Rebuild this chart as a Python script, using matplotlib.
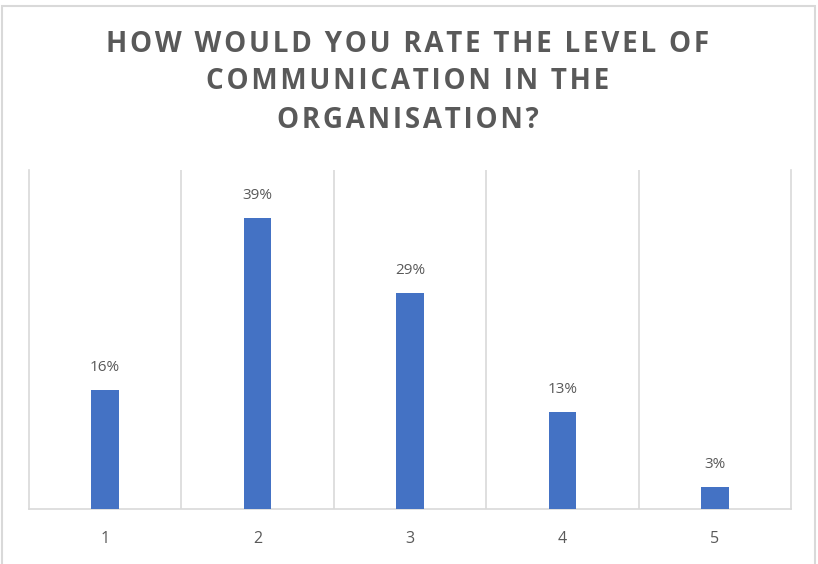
#!/usr/bin/env python3
"""Bar chart of communication ratings across the organisation."""

import matplotlib

matplotlib.use("Agg")
import matplotlib.pyplot as plt
from matplotlib.patches import Rectangle
from matplotlib.ticker import FixedLocator

TITLE_LINES = [
    "HOW WOULD YOU RATE THE LEVEL OF",
    "COMMUNICATION IN THE",
    "ORGANISATION?",
]
RATINGS = ["1", "2", "3", "4", "5"]
SHARES = [0.16, 0.39, 0.29, 0.13, 0.03]

BAR_COLOR = "#4472C4"
TEXT_COLOR = "#595959"
GRID_COLOR = "#D9D9D9"


def spaced(text: str) -> str:
    # hair spaces between letters give the title its tracked look
    return "\u200a".join(text)


def main() -> None:
    plt.rcParams["font.family"] = ["Open Sans", "DejaVu Sans"]
    fig = plt.figure(figsize=(8.18, 5.64), dpi=100)
    fig.patch.set_facecolor("white")

    ax = fig.add_axes([29 / 818, 1 - 509 / 564, 762 / 818, 339 / 564])
    x = list(range(1, len(RATINGS) + 1))
    bars = ax.bar(x, SHARES, width=0.18, color=BAR_COLOR, zorder=3)

    for rect, value in zip(bars, SHARES):
        ax.annotate(
            f"{value:.0%}",
            xy=(rect.get_x() + rect.get_width() / 2, rect.get_height()),
            xytext=(0, 17.5),
            textcoords="offset points",
            ha="center",
            va="center_baseline",
            fontsize=11,
            color=TEXT_COLOR,
        )

    ax.set_xlim(0.5, len(RATINGS) + 0.5)
    ax.set_ylim(0, 0.4545)
    ax.set_xticks(x)
    ax.set_xticklabels(RATINGS, fontsize=11.5, color=TEXT_COLOR)
    ax.set_yticks([])
    ax.tick_params(axis="x", length=0, pad=15.5)

    # vertical separators between categories
    ax.xaxis.set_minor_locator(FixedLocator([i + 0.5 for i in x[:-1]]))
    ax.tick_params(axis="x", which="minor", length=0)
    ax.grid(True, axis="x", which="minor", color=GRID_COLOR, linewidth=1.2, zorder=0)

    for side in ("left", "right", "bottom"):
        ax.spines[side].set_color(GRID_COLOR)
        ax.spines[side].set_linewidth(1.2)
    ax.spines["top"].set_visible(False)

    for i, line in enumerate(TITLE_LINES):
        fig.text(
            408 / 818,
            1 - (44 + 38 * i) / 564,
            spaced(line),
            ha="center",
            va="center",
            fontsize=20,
            fontweight="bold",
            color=TEXT_COLOR,
        )

    # light frame round the chart area
    fig.patches.append(
        Rectangle(
            (2 / 818, -0.01),
            813 / 818,
            1.0,
            transform=fig.transFigure,
            fill=False,
            edgecolor=GRID_COLOR,
            linewidth=1.5,
        )
    )

    fig.savefig("out.png", dpi=100, facecolor="white")
    plt.close(fig)


if __name__ == "__main__":
    main()
